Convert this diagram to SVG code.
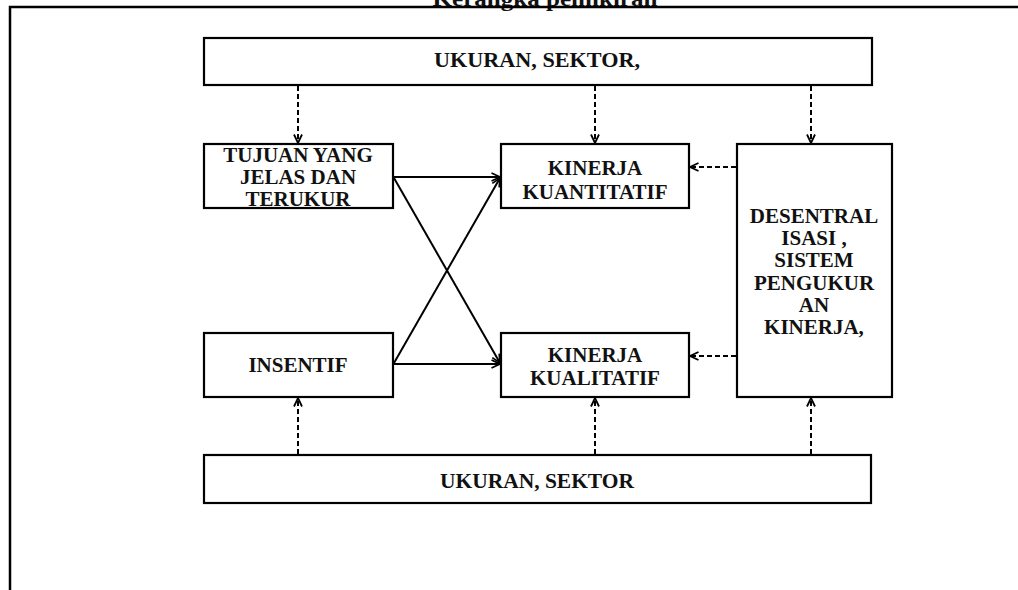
<svg xmlns="http://www.w3.org/2000/svg" width="1018" height="590" viewBox="0 0 1018 590">
<defs>
<marker id="ah" viewBox="0 0 10 10" refX="9.5" refY="5" markerWidth="10" markerHeight="10" markerUnits="userSpaceOnUse" orient="auto">
<path d="M1,1 L9.5,5 L1,9" fill="none" stroke="#000" stroke-width="1.8"/>
</marker>
</defs>
<style>
.box{fill:#fff;stroke:#000;stroke-width:2.2}
.t{font-family:"Liberation Serif","Times New Roman",serif;font-weight:bold;font-size:21px;fill:#111;text-anchor:middle}
.solid{stroke:#000;stroke-width:2;fill:none;marker-end:url(#ah)}
.dash{stroke:#000;stroke-width:2;fill:none;stroke-dasharray:5,3;marker-end:url(#ah)}
</style>
<rect width="1018" height="590" fill="#fff"/>
<g id="frame">
<text class="t" x="545" y="6" font-size="22" textLength="225" lengthAdjust="spacingAndGlyphs">Kerangka pemikiran</text>
<path d="M10,590 L10,7 L1018,7" fill="none" stroke="#000" stroke-width="2.5"/>
</g>
<g id="top-ukuran">
<rect class="box" x="204" y="38" width="668" height="47"/>
<text class="t" x="537" y="67" font-size="22" textLength="206" lengthAdjust="spacingAndGlyphs">UKURAN, SEKTOR,</text>
</g>
<g id="tujuan">
<rect class="box" x="204" y="144" width="189" height="64"/>
<text class="t" x="298" y="162">TUJUAN YANG</text>
<text class="t" x="298" y="184">JELAS DAN</text>
<text class="t" x="298" y="206">TERUKUR</text>
</g>
<g id="kuantitatif">
<rect class="box" x="501" y="144" width="188" height="64"/>
<text class="t" x="595" y="175">KINERJA</text>
<text class="t" x="595" y="199">KUANTITATIF</text>
</g>
<g id="desentralisasi">
<rect class="box" x="737" y="144" width="155" height="253"/>
<text class="t" x="814" y="223">DESENTRAL</text>
<text class="t" x="814" y="245">ISASI ,</text>
<text class="t" x="814" y="267">SISTEM</text>
<text class="t" x="814" y="290">PENGUKUR</text>
<text class="t" x="814" y="312">AN</text>
<text class="t" x="814" y="334">KINERJA,</text>
</g>
<g id="insentif">
<rect class="box" x="204" y="333" width="189" height="64"/>
<text class="t" x="298" y="372">INSENTIF</text>
</g>
<g id="kualitatif">
<rect class="box" x="501" y="333" width="188" height="64"/>
<text class="t" x="595" y="362">KINERJA</text>
<text class="t" x="595" y="385">KUALITATIF</text>
</g>
<g id="bottom-ukuran">
<rect class="box" x="204" y="455" width="667" height="48"/>
<text class="t" x="537" y="488" font-size="22" textLength="194" lengthAdjust="spacingAndGlyphs">UKURAN, SEKTOR</text>
</g>
<g id="connectors">
<line class="dash" x1="298" y1="86" x2="298" y2="143"/>
<line class="dash" x1="595" y1="86" x2="595" y2="143"/>
<line class="dash" x1="811" y1="86" x2="811" y2="143"/>
<line class="dash" x1="298" y1="454" x2="298" y2="398"/>
<line class="dash" x1="595" y1="454" x2="595" y2="398"/>
<line class="dash" x1="811" y1="454" x2="811" y2="398"/>
<line class="dash" x1="736" y1="167" x2="690" y2="167"/>
<line class="dash" x1="736" y1="356" x2="690" y2="356"/>
<line class="solid" x1="394" y1="177" x2="500" y2="177"/>
<line class="solid" x1="394" y1="364" x2="500" y2="364"/>
<line class="solid" x1="394" y1="178" x2="500" y2="363"/>
<line class="solid" x1="394" y1="363" x2="500" y2="178"/>
</g>
</svg>
